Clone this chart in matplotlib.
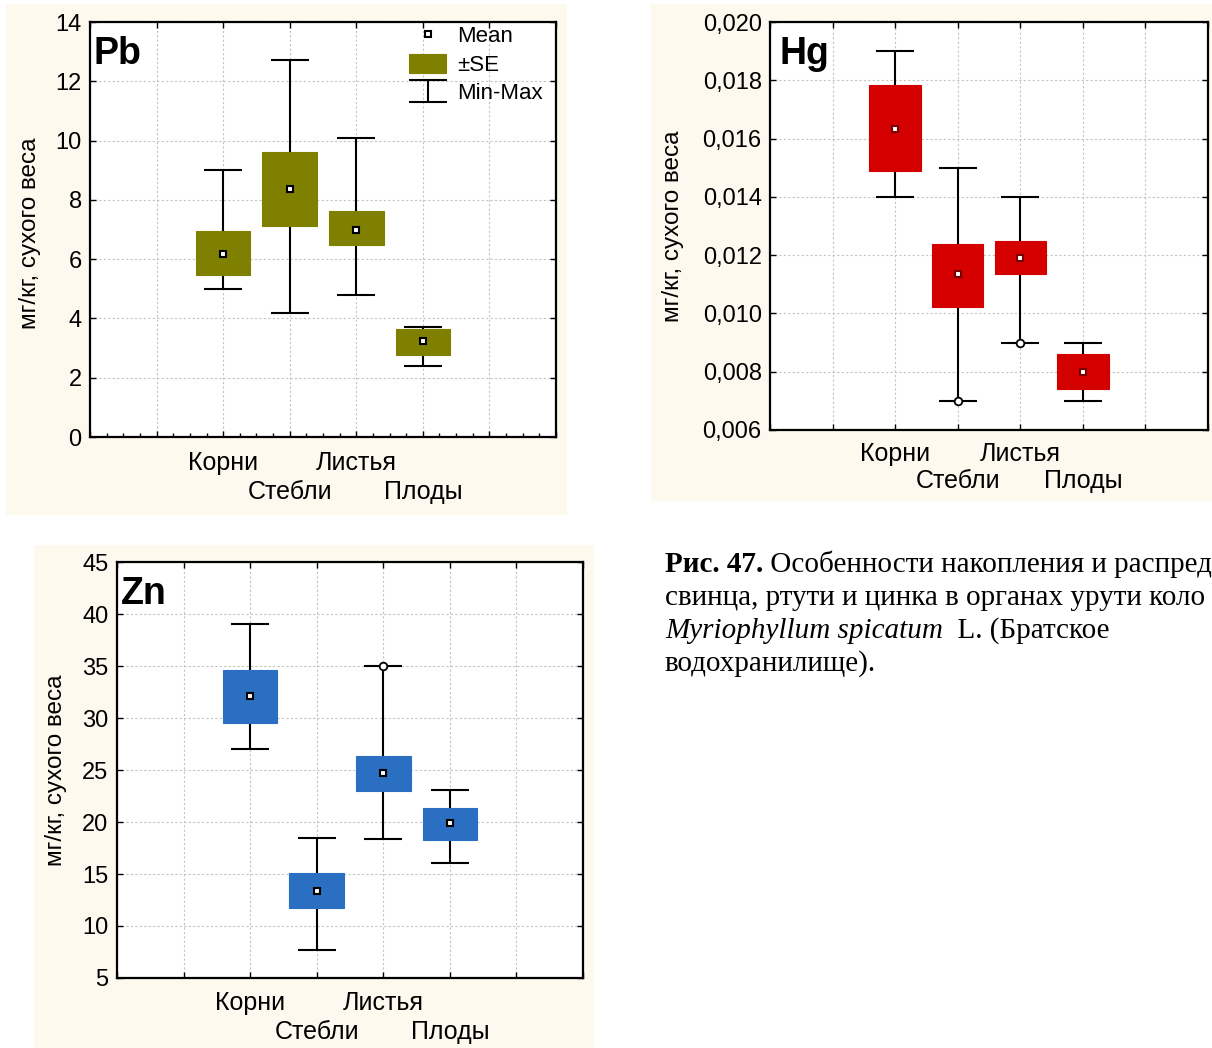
import matplotlib
matplotlib.use("Agg")
import matplotlib.pyplot as plt
from matplotlib.patches import Rectangle
from matplotlib.ticker import FixedLocator, MultipleLocator, FuncFormatter

plt.rcParams["font.family"] = ["Liberation Sans", "DejaVu Sans"]

organs = ["Корни", "Стебли", "Листья", "Плоды"]
organ_pos = [2, 3, 4, 5]

# Pb, мг/кг
pb_mean = [6.17, 8.37, 7.00, 3.24]
pb_se_lo = [5.47, 7.12, 6.48, 2.77]
pb_se_hi = [6.95, 9.60, 7.62, 3.64]
pb_min = [5.0, 4.18, 4.8, 2.4]
pb_max = [9.0, 12.72, 10.1, 3.7]
pb_min_circle = [False, False, False, False]
pb_max_circle = [False, False, False, False]

# Hg
hg_mean = [0.01633, 0.01135, 0.01190, 0.00799]
hg_se_lo = [0.01489, 0.01022, 0.01135, 0.00741]
hg_se_hi = [0.01784, 0.01238, 0.01249, 0.00861]
hg_min = [0.0140, 0.0070, 0.0090, 0.0070]
hg_max = [0.0190, 0.0150, 0.0140, 0.0090]
hg_min_circle = [False, True, True, False]
hg_max_circle = [False, False, False, False]

# Zn
zn_mean = [32.1, 13.37, 24.7, 19.9]
zn_se_lo = [29.5, 11.73, 23.0, 18.27]
zn_se_hi = [34.6, 15.1, 26.35, 21.35]
zn_min = [27.0, 7.7, 18.37, 16.06]
zn_max = [39.0, 18.46, 35.0, 23.07]
zn_min_circle = [False, False, False, False]
zn_max_circle = [False, False, True, False]

YLABEL = "мг/кг, сухого веса"
BG = "#fdf9ee"


def draw_panel(ax, name, color, mean, lo, hi, vmin, vmax, min_circ, max_circ,
               ylim, ystep, fmt=None, mean_edge="black", minor_x=False,
               legend=False, name_x=0.008, pads=(9.5, 30)):
    ax.set_xlim(0, 7)
    ax.set_ylim(*ylim)
    ax.set_axisbelow(True)
    ax.grid(True, color="#c4c4c4", linestyle=(0, (2, 2)), linewidth=0.8)

    # whiskers min-max
    err = ax.errorbar(organ_pos, mean,
                      yerr=[[m - a for m, a in zip(mean, vmin)],
                            [b - m for m, b in zip(mean, vmax)]],
                      fmt="none", ecolor="black", elinewidth=1.5,
                      capsize=13.5, capthick=1.5, zorder=2,
                      label="Min-Max")
    # ±SE boxes
    heights = [h - l for l, h in zip(lo, hi)]
    bars = ax.bar(organ_pos, heights, bottom=lo, width=0.82, color=color,
                  edgecolor=color, linewidth=0.8, zorder=3, label="±SE")
    means, = ax.plot(organ_pos, mean, "s", mfc="white", mec=mean_edge,
                     ms=5, mew=1.5, linestyle="none", zorder=4,
                     label="Mean")

    for x, y, c in zip(organ_pos, vmin, min_circ):
        if c:
            ax.plot(x, y, "o", mfc="white", mec="black", ms=5.5, mew=1.3,
                    zorder=5)
    for x, y, c in zip(organ_pos, vmax, max_circ):
        if c:
            ax.plot(x, y, "o", mfc="white", mec="black", ms=5.5, mew=1.3,
                    zorder=5)

    # staggered category labels: first row on the axis itself,
    # second row on a secondary bottom axis with a larger pad
    ax.xaxis.set_major_locator(FixedLocator(range(8)))
    labels = [""] * 8
    for p, o in zip(organ_pos[0::2], organs[0::2]):
        labels[p] = o
    ax.set_xticklabels(labels)
    sec = ax.secondary_xaxis("bottom")
    sec.set_xticks(organ_pos[1::2], organs[1::2])
    sec.tick_params(length=0, labelsize=18, pad=pads[1])
    sec.spines["bottom"].set_visible(False)

    if minor_x:
        ax.xaxis.set_minor_locator(MultipleLocator(0.25))
        ax.tick_params(axis="x", which="minor", direction="in", length=3,
                       width=1, top=False, bottom=True)
    ax.yaxis.set_major_locator(MultipleLocator(ystep))
    if fmt is not None:
        ax.yaxis.set_major_formatter(FuncFormatter(fmt))
    ax.tick_params(which="major", direction="in", length=4, width=1,
                   top=True, right=True, labelsize=17, pad=6)
    ax.tick_params(axis="x", which="major", labelsize=18, pad=pads[0])
    for s in ax.spines.values():
        s.set_linewidth(1.6)

    ax.set_ylabel(YLABEL, fontsize=17.5)
    ax.text(name_x, 0.922, name, transform=ax.transAxes, fontsize=27,
            fontweight="bold", va="center", ha="left")

    if legend:
        ax.legend([means, bars, err], ["Mean", "±SE", "Min-Max"],
                  loc="upper right", frameon=False, fontsize=16,
                  handlelength=1.67, handleheight=0.95, labelspacing=0.28,
                  handletextpad=0.5, borderaxespad=0.1,
                  bbox_to_anchor=(0.996, 1.019))


fig = plt.figure(figsize=(12.12, 10.48), dpi=100)
fig.patch.set_facecolor("white")

for rect in [(0.005, 0.5086, 0.4629, 0.4876),
             (0.5371, 0.522, 0.4629, 0.4742),
             (0.028, 0.0, 0.462, 0.48)]:
    fig.patches.append(Rectangle(rect[:2], rect[2], rect[3],
                                 transform=fig.transFigure, facecolor=BG,
                                 edgecolor="none", zorder=-5))

ax_pb = fig.add_axes([0.0743, 0.583, 0.3844, 0.396])
ax_hg = fig.add_axes([0.6353, 0.5897, 0.3614, 0.3893])
ax_zn = fig.add_axes([0.0965, 0.0668, 0.3845, 0.3969])

draw_panel(ax_pb, "Pb", "#808000", pb_mean, pb_se_lo, pb_se_hi, pb_min,
           pb_max, pb_min_circle, pb_max_circle, (0, 14), 2,
           minor_x=True, legend=True, pads=(10, 31))
draw_panel(ax_hg, "Hg", "#d40000", hg_mean, hg_se_lo, hg_se_hi, hg_min,
           hg_max, hg_min_circle, hg_max_circle, (0.006, 0.020), 0.002,
           fmt=lambda v, p: f"{v:.3f}".replace(".", ","), mean_edge="#7a0000",
           name_x=0.022, pads=(8.5, 28))
draw_panel(ax_zn, "Zn", "#2a6fc2", zn_mean, zn_se_lo, zn_se_hi, zn_min,
           zn_max, zn_min_circle, zn_max_circle, (5, 45), 5, pads=(9.5, 30.5))

ax_pb.yaxis.set_label_coords(-0.105, 0.49)
ax_hg.yaxis.set_label_coords(-0.196, 0.5)
ax_zn.yaxis.set_label_coords(-0.107, 0.5)

# caption (cut at the right edge, as in the source page)
serif = ["Liberation Serif", "DejaVu Serif"]
cap_fs = 21
x0 = 665 / 1212
t = fig.text(x0, 1 - 572 / 1048, "Рис. 47.", family=serif,
             fontsize=cap_fs, fontweight="bold", va="baseline", ha="left")
plt.annotate(" Особенности накопления и распред",
             xy=(1, 0), xycoords=t, va="bottom", ha="left",
             family=serif, fontsize=cap_fs, annotation_clip=False)
fig.text(x0, 1 - 605 / 1048, "свинца, ртути и цинка в органах урути коло",
         family=serif, fontsize=cap_fs, va="baseline", ha="left")
it = fig.text(x0, 1 - 638 / 1048, "Myriophyllum spicatum",
              family=serif, fontsize=cap_fs, style="italic",
              va="baseline", ha="left")
plt.annotate("  L. (Братское", xy=(1, 0), xycoords=it, va="bottom",
             ha="left", family=serif, fontsize=cap_fs, annotation_clip=False)
fig.text(x0, 1 - 671 / 1048, "водохранилище).", family=serif,
         fontsize=cap_fs, va="baseline", ha="left")

fig.savefig("out.png", dpi=100, facecolor="white")
